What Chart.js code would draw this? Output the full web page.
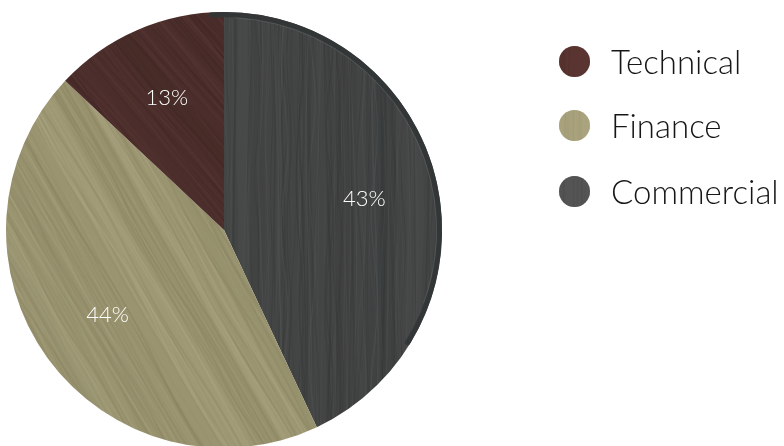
<!DOCTYPE html>
<html>
<head>
<meta charset="utf-8">
<script src="https://cdn.jsdelivr.net/npm/chart.js@4.4.1/dist/chart.umd.min.js"></script>
<style>
  html, body { margin: 0; padding: 0; background: #fff; overflow: hidden; }
  #wrap { position: relative; width: 784px; height: 446px; overflow: hidden; }
  #pie { position: absolute; left: 0; top: 0; }
  #legend { position: absolute; left: 0; top: 0; margin: 0; padding: 0; list-style: none;
            font-family: Lato, "Helvetica Neue", sans-serif; font-weight: 300; color: #161616; }
  #legend li { position: absolute; left: 559px; height: 31px; display: flex; align-items: center; white-space: nowrap; }
  #legend canvas { width: 31px; height: 31px; margin-right: 21px; }
  #legend span { font-size: 33px; line-height: 31px; }
</style>
</head>
<body>
<div id="wrap">
  <canvas id="pie" width="784" height="452"></canvas>
  <ul id="legend"></ul>
</div>
<script>
// Slices in clockwise order from 12 o'clock
const sliceNames = ['Commercial', 'Finance', 'Technical'];
const sliceShares = [43, 44, 13];
// Legend lists the departments in this order
const legendOrder = ['Technical', 'Finance', 'Commercial'];

// Wood finishes per department: base, dark grain, light grain, grain angle (deg), seed
const finishes = {
  Commercial: { base: '#434444', dark: '#363838', light: '#525353', angle: 0, seed: 11, dot: '#555555' },
  Finance:    { base: '#9a9470', dark: '#878160', light: '#ada784', angle: -30, seed: 29, dot: '#aaa47e' },
  Technical:  { base: '#4b2e2b', dark: '#3e2523', light: '#5a3936', angle: -40, seed: 47, dot: '#5a3531' }
};

// Builds a tileable wood-grain texture with wavy vertical fibres
function grainTile(f) {
  const W = 256, H = 512;
  const c = document.createElement('canvas');
  c.width = W; c.height = H;
  const g = c.getContext('2d');
  g.fillStyle = f.base;
  g.fillRect(0, 0, W, H);
  let s = f.seed;
  const next = () => (s = (s * 16807) % 2147483647) / 2147483647;
  const fibre = (count, wMin, wMax, aMin, aMax) => {
    for (let i = 0; i < count; i++) {
      const x0 = next() * W;
      const lw = wMin + next() * (wMax - wMin);
      const amp = 0.5 + next() * 3;
      const k = 1 + Math.floor(next() * 3);
      const ph = next() * Math.PI * 2;
      g.strokeStyle = next() < 0.55 ? f.dark : f.light;
      g.globalAlpha = aMin + next() * (aMax - aMin);
      g.lineWidth = lw;
      for (const off of [-W, 0, W]) {
        g.beginPath();
        for (let y = 0; y <= H; y += 8) {
          const x = x0 + off + amp * Math.sin(2 * Math.PI * k * y / H + ph);
          if (y === 0) g.moveTo(x, y); else g.lineTo(x, y);
        }
        g.stroke();
      }
    }
  };
  fibre(10, 8, 22, 0.1, 0.25);
  fibre(140, 0.6, 1.8, 0.2, 0.5);
  g.globalAlpha = 1;
  return c;
}

function woodPattern(ctx, f) {
  const p = ctx.createPattern(grainTile(f), 'repeat');
  p.setTransform(new DOMMatrix().rotateSelf(f.angle));
  return p;
}

const pieCanvas = document.getElementById('pie');
const pieCtx = pieCanvas.getContext('2d');

// Percentage labels inside each slice
const sliceLabels = {
  id: 'sliceLabels',
  afterDatasetsDraw(chart) {
    const ctx = chart.ctx;
    const meta = chart.getDatasetMeta(0);
    ctx.save();
    ctx.font = '300 22px Lato, "Helvetica Neue", sans-serif';
    ctx.fillStyle = '#ffffff';
    ctx.textAlign = 'center';
    ctx.textBaseline = 'middle';
    meta.data.forEach((arc, i) => {
      const { x, y, startAngle, endAngle, outerRadius } =
        arc.getProps(['x', 'y', 'startAngle', 'endAngle', 'outerRadius'], true);
      const mid = (startAngle + endAngle) / 2;
      const r = outerRadius * 0.66;
      ctx.fillText(chart.data.datasets[0].data[i] + '%', x + Math.cos(mid) * r, y + Math.sin(mid) * r);
    });
    ctx.restore();
  }
};

// Dark bevelled rim along the upper-right edge of the disc
const discRim = {
  id: 'discRim',
  afterDatasetsDraw(chart) {
    const arc = chart.getDatasetMeta(0).data[0];
    if (!arc) return;
    const { x, y, outerRadius } = arc.getProps(['x', 'y', 'outerRadius'], true);
    const ctx = chart.ctx;
    ctx.save();
    ctx.lineCap = 'round';
    ctx.strokeStyle = 'rgba(50,54,54,0.95)';
    ctx.lineWidth = 5;
    ctx.beginPath();
    ctx.arc(x, y, outerRadius - 2.5, -Math.PI / 2 - 0.06, 0.55);
    ctx.stroke();
    ctx.strokeStyle = 'rgba(105,108,108,0.45)';
    ctx.lineWidth = 1;
    ctx.beginPath();
    ctx.arc(x, y, outerRadius - 5.5, -Math.PI / 2 + 0.05, 0.35);
    ctx.stroke();
    ctx.restore();
  }
};

new Chart(pieCtx, {
  type: 'pie',
  data: {
    labels: sliceNames,
    datasets: [{
      data: sliceShares,
      backgroundColor: sliceNames.map(n => woodPattern(pieCtx, finishes[n])),
      borderWidth: 0,
      hoverOffset: 0
    }]
  },
  options: {
    responsive: false,
    animation: false,
    events: [],
    layout: { padding: { left: 6, right: 342, top: 12, bottom: 4 } },
    plugins: {
      legend: { display: false },
      tooltip: { enabled: false }
    }
  },
  plugins: [sliceLabels, discRim]
});

// Legend: wood swatch plus department name
const legend = document.getElementById('legend');
const rowTops = [46, 110, 176];
legendOrder.forEach((name, i) => {
  const li = document.createElement('li');
  li.style.top = rowTops[i] + 'px';
  const sw = document.createElement('canvas');
  sw.width = 31; sw.height = 31;
  const c = sw.getContext('2d');
  c.fillStyle = finishes[name].dot;
  c.beginPath(); c.arc(15.5, 15.5, 15.5, 0, Math.PI * 2); c.fill();
  c.save();
  c.clip();
  c.globalAlpha = 0.35;
  c.fillStyle = woodPattern(c, Object.assign({}, finishes[name], { angle: 0, base: finishes[name].dot }));
  c.fillRect(0, 0, 31, 31);
  c.restore();
  const label = document.createElement('span');
  label.textContent = name;
  li.appendChild(sw);
  li.appendChild(label);
  legend.appendChild(li);
});
</script>
</body>
</html>
